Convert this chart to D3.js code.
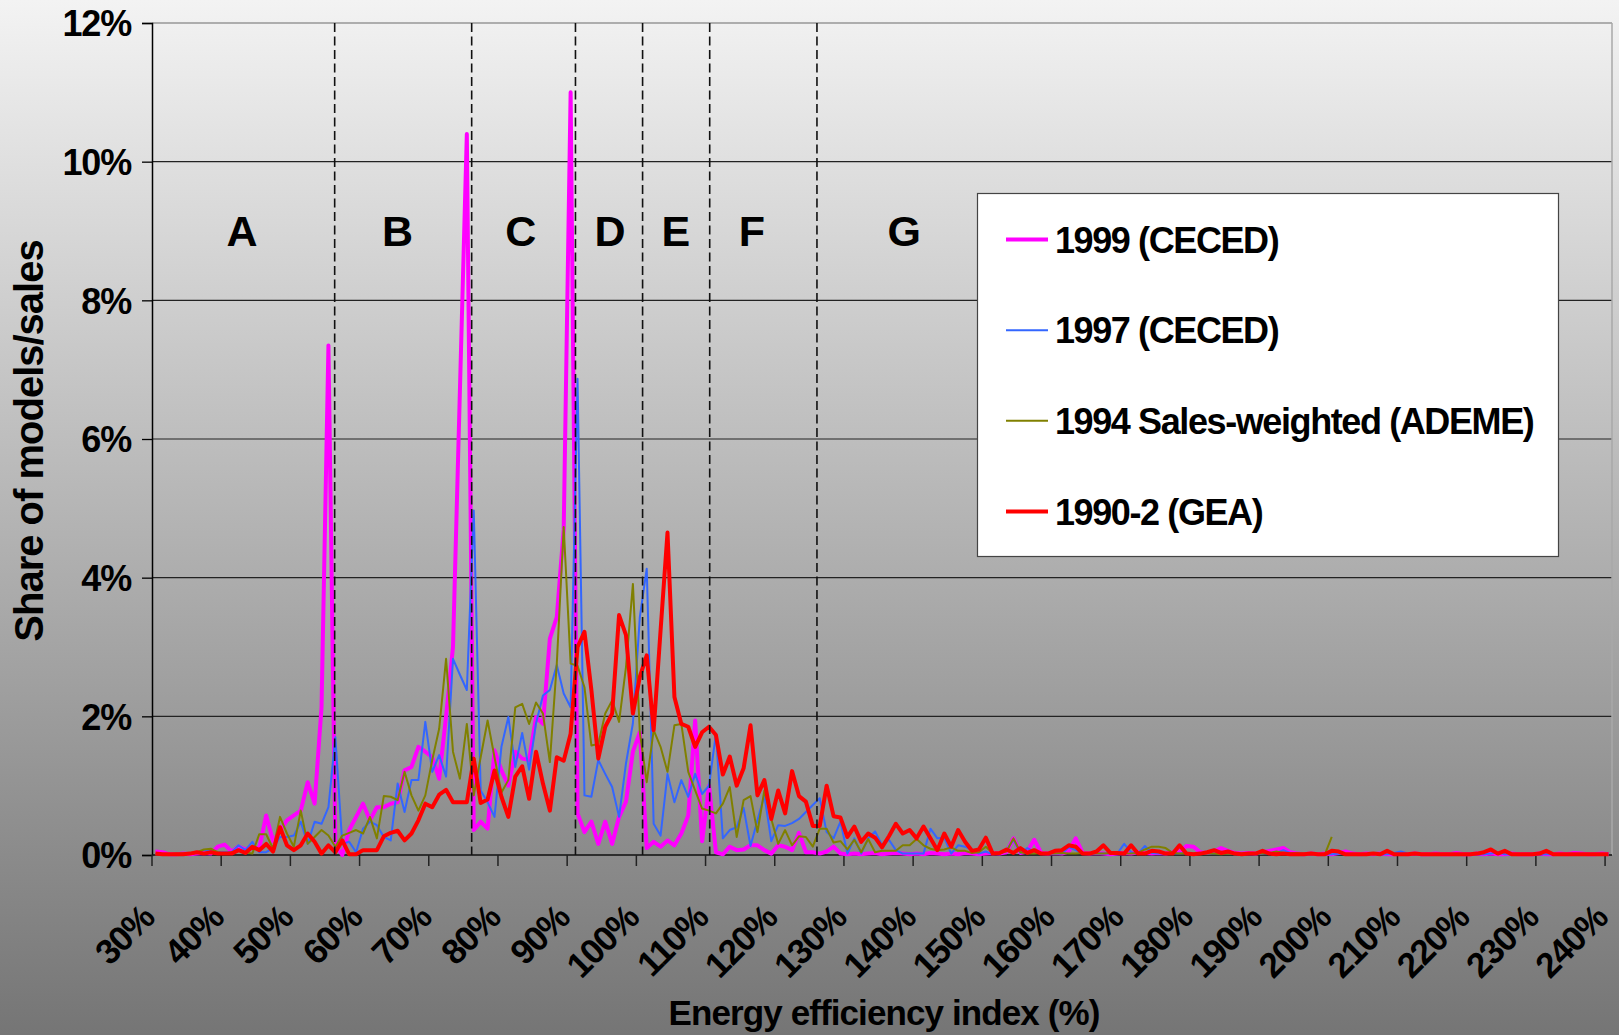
<!DOCTYPE html>
<html><head><meta charset="utf-8">
<script src="https://cdn.jsdelivr.net/npm/d3@7"></script>
<style>
html,body{margin:0;padding:0;background:#fff;}
svg{display:block;}
text{font-family:"Liberation Sans",Arial,sans-serif;font-weight:bold;fill:#000;}
</style></head>
<body>
<svg id="chart" width="1619" height="1035"></svg>
<script>
// ---------- data ----------
const categories = d3.range(30, 241);           // energy efficiency index (%), 1% steps
const xTickValues = d3.range(30, 241, 10);
const yTickValues = [0, 2, 4, 6, 8, 10, 12];

const seriesNames = ["1999 (CECED)", "1997 (CECED)", "1994 Sales-weighted (ADEME)", "1990-2 (GEA)"];

const s1999 = [
0.05,0.04,0.01,0.01,0.02,0.01,0.02,0.03,0.02,0.12,
0.15,0.05,0.12,0.08,0.10,0.10,0.57,0.20,0.35,0.50,
0.57,0.64,1.05,0.74,2.13,7.35,0.15,0.00,0.36,0.55,
0.74,0.50,0.69,0.69,0.74,0.76,1.22,1.27,1.56,1.49,
1.41,1.10,2.00,3.00,6.70,10.40,0.36,0.48,0.38,1.51,
1.22,1.00,1.49,1.39,1.37,1.99,1.89,3.12,3.43,4.70,
11.00,0.60,0.33,0.48,0.16,0.48,0.16,0.55,0.77,1.49,
1.77,0.10,0.19,0.12,0.21,0.14,0.31,0.57,1.94,0.20,
1.00,0.04,0.01,0.12,0.07,0.08,0.14,0.14,0.07,0.02,
0.14,0.12,0.07,0.32,0.04,0.04,0.02,0.05,0.12,0.02,
0.01,0.02,0.01,0.02,0.03,0.01,0.02,0.03,0.02,0.01,
0.02,0.01,0.03,0.02,0.01,0.02,0.01,0.03,0.02,0.01,
0.02,0.03,0.02,0.04,0.24,0.03,0.05,0.22,0.03,0.02,
0.03,0.02,0.05,0.24,0.03,0.02,0.03,0.02,0.01,0.02,
0.03,0.02,0.04,0.03,0.02,0.03,0.02,0.04,0.05,0.13,
0.12,0.04,0.03,0.05,0.10,0.06,0.03,0.02,0.03,0.02,
0.04,0.06,0.08,0.10,0.04,0.02,0.01,0.02,0.01,0.02,
0.01,0.03,0.05,0.02,0.01,0.02,0.01,0.02,0.01,0.01,
0.02,0.01,0.02,0.01,0.01,0.02,0.01,0.01,0.03,0.01,
0.01,0.02,0.01,0.02,0.01,0.01,0.02,0.01,0.01,0.01,
0.02,0.01,0.01,0.02,0.01,0.03,0.02,0.01,0.01,0.02,
0.01];

const s1997 = [
0.01,0.01,0.01,0.01,0.02,0.02,0.04,0.07,0.07,0.04,
0.04,0.04,0.14,0.07,0.19,0.04,0.04,0.10,0.26,0.26,
0.28,0.48,0.16,0.48,0.45,0.69,1.70,0.16,0.19,0.04,
0.38,0.48,0.43,0.26,0.21,1.03,0.62,1.08,1.08,1.92,
1.20,1.44,1.13,2.83,2.60,2.38,4.97,0.93,0.76,0.55,
1.56,1.99,1.27,1.76,1.23,1.90,2.30,2.38,2.74,2.33,
2.13,6.87,0.86,0.84,1.37,1.17,0.98,0.55,1.32,1.90,
3.43,4.13,0.45,0.28,1.17,0.76,1.08,0.84,1.17,0.88,
1.00,1.75,0.24,0.36,0.40,0.68,0.13,0.50,0.86,0.20,
0.43,0.42,0.46,0.52,0.62,0.72,0.82,0.33,0.24,0.48,
0.02,0.24,0.02,0.24,0.34,0.14,0.22,0.07,0.02,0.02,
0.02,0.02,0.38,0.24,0.25,0.02,0.14,0.12,0.08,0.02,
0.05,0.01,0.02,0.07,0.22,0.03,0.10,0.05,0.02,0.02,
0.02,0.02,0.11,0.07,0.02,0.02,0.02,0.02,0.02,0.02,
0.16,0.04,0.02,0.13,0.03,0.02,0.02,0.02,0.02,0.03,
0.02,0.02,0.02,0.02,0.03,0.02,0.01,0.02,0.02,0.01,
0.02,0.02,0.03,0.07,0.03,0.02,0.01,0.01,0.01,0.01,
0.01,0.02,0.01,0.01,0.01,0.01,0.01,0.01,0.01,0.03,
0.05,0.02,0.01,0.01,0.01,0.01,0.01,0.01,0.01,0.01,
0.01,0.01,0.01,0.02,0.04,0.01,0.01,0.01,0.01,0.01,
0.01,0.01,0.01,0.01,0.01,0.01,0.01,0.01,0.01,0.01,
0.01];

// 1994 series stops at 200%
const s1994 = [
0.01,0.01,0.01,0.02,0.02,0.03,0.04,0.08,0.09,0.04,
0.02,0.04,0.06,0.04,0.02,0.30,0.30,0.09,0.55,0.31,
0.12,0.64,0.16,0.26,0.36,0.28,0.12,0.28,0.32,0.36,
0.31,0.55,0.24,0.85,0.84,0.79,1.20,0.86,0.64,0.86,
1.37,1.82,2.83,1.49,1.10,1.89,0.86,1.41,1.94,1.41,
0.90,1.08,2.13,2.18,1.89,2.20,2.04,1.34,2.76,4.73,
2.76,2.73,2.42,1.58,1.60,2.04,2.23,1.92,2.71,3.91,
1.77,1.05,1.80,1.56,1.20,1.87,1.89,1.20,0.93,0.67,
0.64,0.60,0.74,0.98,0.26,0.79,0.85,0.33,0.93,0.52,
0.16,0.36,0.14,0.27,0.26,0.12,0.38,0.38,0.18,0.20,
0.08,0.22,0.04,0.23,0.04,0.06,0.06,0.06,0.14,0.14,
0.23,0.14,0.09,0.07,0.08,0.11,0.06,0.06,0.03,0.04,
0.12,0.03,0.03,0.05,0.24,0.04,0.02,0.02,0.03,0.02,
0.02,0.03,0.02,0.02,0.03,0.02,0.02,0.02,0.03,0.02,
0.02,0.02,0.03,0.08,0.12,0.12,0.10,0.03,0.02,0.02,
0.02,0.01,0.02,0.02,0.01,0.02,0.01,0.02,0.03,0.02,
0.02,0.03,0.05,0.03,0.02,0.03,0.02,0.01,0.01,0.01,
0.26];

const s1990 = [
0.02,0.01,0.01,0.01,0.01,0.02,0.04,0.02,0.04,0.02,
0.02,0.02,0.07,0.03,0.12,0.07,0.16,0.05,0.40,0.14,
0.07,0.14,0.31,0.19,0.02,0.14,0.04,0.21,0.01,0.01,
0.07,0.07,0.07,0.27,0.32,0.35,0.21,0.31,0.50,0.74,
0.69,0.87,0.94,0.76,0.76,0.76,1.39,0.75,0.80,1.22,
0.84,0.55,1.13,1.28,0.81,1.49,1.03,0.64,1.41,1.36,
1.75,3.00,3.22,2.38,1.39,1.85,2.04,3.46,3.17,2.04,
2.57,2.88,1.80,3.24,4.65,2.28,1.89,1.85,1.56,1.77,
1.85,1.73,1.16,1.42,1.00,1.25,1.87,0.86,1.08,0.52,
0.93,0.60,1.21,0.85,0.77,0.42,0.42,1.00,0.56,0.54,
0.26,0.41,0.19,0.31,0.25,0.11,0.27,0.45,0.31,0.36,
0.24,0.41,0.24,0.07,0.31,0.12,0.36,0.19,0.06,0.08,
0.25,0.02,0.03,0.08,0.03,0.10,0.03,0.07,0.02,0.02,
0.06,0.07,0.14,0.12,0.02,0.02,0.05,0.14,0.03,0.03,
0.02,0.14,0.02,0.02,0.06,0.05,0.02,0.02,0.14,0.02,
0.01,0.02,0.04,0.07,0.03,0.05,0.02,0.01,0.02,0.02,
0.06,0.02,0.01,0.02,0.01,0.01,0.01,0.02,0.01,0.01,
0.06,0.05,0.01,0.01,0.01,0.01,0.02,0.01,0.06,0.01,
0.01,0.01,0.02,0.01,0.01,0.01,0.01,0.01,0.01,0.01,
0.01,0.02,0.04,0.08,0.02,0.06,0.01,0.01,0.01,0.01,
0.02,0.06,0.01,0.01,0.01,0.01,0.01,0.01,0.01,0.01,
0.01];

// energy label classes: boundaries and label positions (index %, axis units)
const classLetters = ["A","B","C","D","E","F","G"];
const classLabelAt = [43.0, 65.5, 83.3, 96.2, 105.7, 116.7, 138.7];
const classBounds  = [56.4, 76.2, 91.2, 100.9, 110.6, 126.1];

// ---------- drawing ----------
const W = 1619, H = 1035;
const L = 152, R = 1612, T = 23, B = 855;
const svg = d3.select("#chart");

const defs = svg.append("defs");
const grad = defs.append("linearGradient").attr("id","bg").attr("x1",0).attr("y1",0).attr("x2",0).attr("y2",1);
grad.append("stop").attr("offset","0%").attr("stop-color","#f3f3f3");
grad.append("stop").attr("offset","100%").attr("stop-color","#757575");
svg.append("rect").attr("width",W).attr("height",H).attr("fill","url(#bg)");

const x = d3.scaleBand().domain(categories).range([L, R]).padding(0);
const xl = d3.scaleLinear().domain([30, 241]).range([L, R]);
const y = d3.scaleLinear().domain([0, 12]).range([B, T]);
const cx = v => x(v) + x.bandwidth()/2;

// gridlines
svg.append("g").selectAll("line").data(yTickValues.filter(d=>d>0)).join("line")
  .attr("x1",L).attr("x2",R).attr("y1",d=>y(d)).attr("y2",d=>y(d))
  .attr("stroke",d=>d===12?"#6a6a6a":"#222").attr("stroke-width",1.2);
// right border
svg.append("line").attr("x1",R).attr("x2",R).attr("y1",T).attr("y2",B).attr("stroke","#a8a8a8").attr("stroke-width",1.5);

// y axis
const yAxis = d3.axisLeft(y).tickValues(yTickValues).tickSize(10).tickFormat(d=>d+"%").tickPadding(11);
const gy = svg.append("g").attr("transform",`translate(${L},0)`).call(yAxis);
gy.select(".domain").attr("stroke","#000").attr("stroke-width",1.5);
gy.selectAll(".tick line").attr("stroke","#000").attr("stroke-width",1.3);
gy.selectAll(".tick text").attr("font-size",36).attr("letter-spacing","-1.2px")
  .attr("font-family","'Liberation Sans',Arial,sans-serif").attr("font-weight","bold").attr("fill","#000").attr("dy","0.36em");

// x axis line + ticks
svg.append("line").attr("x1",L).attr("x2",R).attr("y1",B).attr("y2",B).attr("stroke","#111").attr("stroke-width",1.5);
svg.append("g").selectAll("line").data(xTickValues).join("line")
  .attr("x1",d=>x(d)).attr("x2",d=>x(d)).attr("y1",B).attr("y2",B+11)
  .attr("stroke","#222").attr("stroke-width",1.5);
svg.append("g").selectAll("text").data(xTickValues).join("text")
  .attr("transform",d=>`translate(${cx(d)+1},920) rotate(-45)`)
  .attr("text-anchor","end").attr("font-size",35).attr("letter-spacing","-1.3px")
  .text(d=>d+"%");

// series
const lineGen = d3.line().x((d,i)=>cx(categories[i])).y(d=>y(d));
const series = [
  {name:seriesNames[0], data:s1999, color:"#ff00ff", w:4},
  {name:seriesNames[1], data:s1997, color:"#3366ff", w:2},
  {name:seriesNames[2], data:s1994, color:"#808000", w:2},
  {name:seriesNames[3], data:s1990, color:"#ff0000", w:4}
];
svg.append("g").selectAll("path").data(series).join("path")
  .attr("d",s=>lineGen(s.data)).attr("fill","none")
  .attr("stroke",s=>s.color).attr("stroke-width",s=>s.w)
  .attr("stroke-linejoin","round");

// class boundaries
svg.append("g").selectAll("line").data(classBounds).join("line")
  .attr("x1",d=>xl(d)).attr("x2",d=>xl(d)).attr("y1",T).attr("y2",B)
  .attr("stroke","#111").attr("stroke-width",1.6).attr("stroke-dasharray","9,4.5");
svg.append("g").selectAll("text").data(classLetters).join("text")
  .attr("x",(d,i)=>xl(classLabelAt[i])).attr("y",246)
  .attr("text-anchor","middle").attr("font-size",43).text(d=>d);

// legend
const lg = svg.append("g");
lg.append("rect").attr("x",977.5).attr("y",193.5).attr("width",581).attr("height",363)
  .attr("fill","#fff").attr("stroke","#444").attr("stroke-width",1.2);
const ly = d3.scalePoint().domain(seriesNames).range([239.5, 511.5]);
const items = lg.selectAll("g").data(series).join("g");
items.append("line").attr("x1",1006).attr("x2",1048).attr("y1",s=>ly(s.name)).attr("y2",s=>ly(s.name))
  .attr("stroke",s=>s.color).attr("stroke-width",s=>s.w);
items.append("text").attr("x",1055).attr("y",s=>ly(s.name)+13)
  .attr("font-size",36).attr("letter-spacing","-1.4px").text(s=>s.name);

// axis titles
svg.append("text").attr("x",884).attr("y",1025).attr("text-anchor","middle")
  .attr("font-size",35).attr("letter-spacing","-0.9px").text("Energy efficiency index (%)");
svg.append("text").attr("transform","translate(43,441) rotate(-90)").attr("text-anchor","middle")
  .attr("font-size",40).attr("letter-spacing","-1px").text("Share of models/sales");
</script>
</body></html>
